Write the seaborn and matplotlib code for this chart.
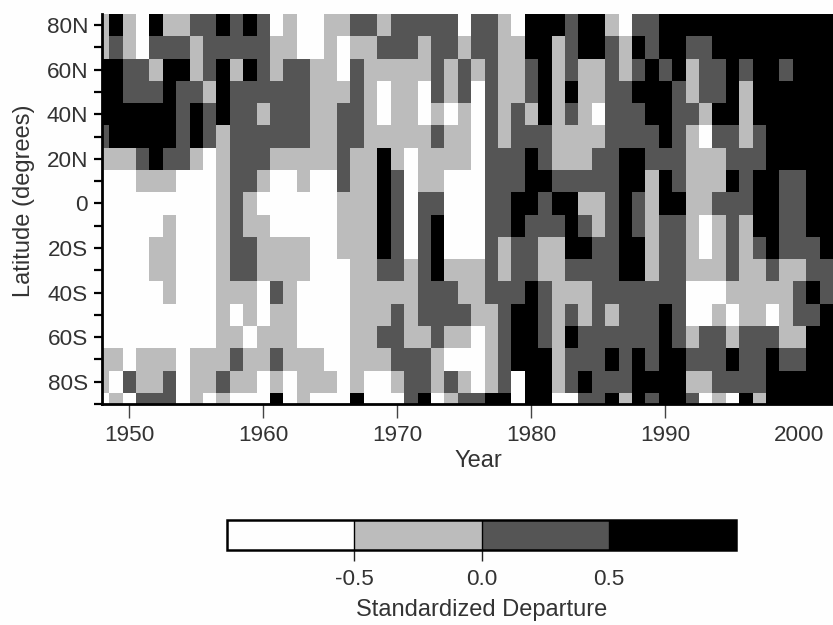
import numpy as np
import pandas as pd
import matplotlib
matplotlib.use("Agg")
import matplotlib.pyplot as plt
from matplotlib.colors import ListedColormap
import seaborn as sns

# Latitude bands, north to south (the 90S band is cut in half by the axis)
lat_bands = ["80N", "70N", "60N", "50N", "40N", "30N", "20N", "10N", "0",
             "10S", "20S", "30S", "40S", "50S", "60S", "70S", "80S", "90S"]
years = list(range(1948, 2003))

# Class midpoints: class 0 is below -0.5, 1 is -0.5..0, 2 is 0..0.5, 3 above 0.5
class_mid = [-0.75, -0.25, 0.25, 0.75]
greys = ["#fefefe", "#bcbcbc", "#555555", "#000000"]

# Shaded class per band for each year
y1948 = [1, 1, 3, 3, 3, 2, 1, 0, 0, 0, 0, 0, 0, 0, 0, 1, 1, 0]
y1949 = [3, 2, 3, 3, 3, 3, 1, 0, 0, 0, 0, 0, 0, 0, 0, 1, 0, 1]
y1950 = [1, 1, 2, 2, 3, 3, 1, 0, 0, 0, 0, 0, 0, 0, 0, 0, 2, 0]
y1951 = [0, 0, 2, 2, 3, 3, 2, 1, 0, 0, 0, 0, 0, 0, 0, 1, 1, 2]
y1952 = [3, 2, 1, 2, 3, 3, 3, 1, 0, 0, 1, 1, 0, 0, 0, 1, 1, 2]
y1953 = [1, 2, 3, 3, 3, 3, 2, 1, 0, 1, 1, 1, 1, 0, 0, 1, 2, 2]
y1954 = [1, 2, 3, 2, 2, 2, 2, 0, 0, 0, 0, 0, 0, 0, 0, 0, 0, 0]
y1955 = [2, 1, 1, 2, 3, 3, 1, 0, 0, 0, 0, 0, 0, 0, 0, 1, 1, 1]
y1956 = [2, 2, 2, 1, 2, 2, 0, 0, 0, 0, 0, 0, 0, 0, 0, 1, 1, 0]
y1957 = [3, 2, 3, 3, 3, 1, 1, 1, 1, 1, 1, 1, 1, 1, 1, 1, 2, 1]
y1958 = [2, 2, 1, 2, 2, 2, 2, 2, 2, 2, 2, 2, 1, 0, 1, 2, 1, 0]
y1959 = [3, 2, 3, 2, 2, 2, 2, 2, 1, 1, 2, 2, 1, 1, 0, 1, 1, 0]
y1960 = [2, 2, 2, 2, 1, 2, 2, 1, 0, 1, 1, 1, 0, 0, 1, 1, 0, 0]
y1961 = [0, 1, 1, 2, 2, 2, 1, 0, 0, 0, 1, 1, 2, 1, 1, 2, 1, 3]
y1962 = [1, 1, 2, 2, 2, 2, 1, 0, 0, 0, 1, 1, 1, 1, 1, 1, 0, 0]
y1963 = [0, 0, 2, 2, 2, 2, 1, 1, 0, 0, 1, 1, 0, 0, 0, 1, 1, 1]
y1964 = [0, 0, 1, 1, 1, 1, 1, 0, 0, 0, 0, 0, 0, 0, 0, 1, 1, 0]
y1965 = [1, 1, 1, 1, 1, 1, 1, 0, 0, 0, 0, 0, 0, 0, 0, 0, 1, 0]
y1966 = [1, 0, 0, 1, 2, 2, 2, 2, 1, 1, 1, 0, 0, 0, 0, 0, 0, 0]
y1967 = [2, 1, 2, 2, 2, 2, 1, 1, 1, 1, 1, 1, 1, 1, 1, 1, 1, 3]
y1968 = [2, 1, 1, 1, 1, 1, 1, 1, 1, 1, 1, 1, 1, 1, 1, 1, 0, 0]
y1969 = [1, 2, 1, 0, 0, 1, 3, 3, 3, 3, 3, 2, 1, 1, 2, 1, 0, 0]
y1970 = [2, 2, 1, 1, 1, 1, 1, 2, 2, 2, 2, 2, 1, 2, 2, 2, 1, 0]
y1971 = [2, 2, 1, 1, 1, 1, 0, 0, 0, 0, 0, 1, 1, 1, 1, 2, 2, 2]
y1972 = [2, 1, 1, 0, 0, 1, 1, 1, 2, 2, 2, 2, 2, 2, 1, 2, 2, 3]
y1973 = [2, 2, 2, 2, 1, 2, 1, 1, 2, 3, 3, 3, 2, 2, 2, 1, 1, 0]
y1974 = [2, 2, 1, 1, 0, 1, 1, 0, 0, 0, 0, 1, 2, 2, 1, 0, 2, 1]
y1975 = [0, 1, 2, 2, 1, 1, 1, 0, 0, 0, 0, 1, 1, 2, 1, 0, 1, 2]
y1976 = [2, 2, 1, 0, 0, 0, 0, 0, 0, 0, 0, 1, 1, 1, 0, 0, 0, 2]
y1977 = [2, 2, 2, 2, 2, 2, 2, 2, 2, 2, 2, 2, 2, 1, 1, 1, 1, 3]
y1978 = [1, 1, 1, 1, 1, 1, 2, 2, 2, 2, 1, 1, 2, 2, 2, 2, 2, 3]
y1979 = [0, 1, 1, 1, 2, 2, 2, 2, 3, 3, 2, 2, 2, 3, 3, 3, 0, 0]
y1980 = [3, 3, 2, 2, 1, 2, 3, 3, 3, 2, 2, 2, 3, 3, 3, 3, 3, 3]
y1981 = [3, 3, 3, 3, 3, 2, 2, 3, 2, 2, 1, 1, 2, 2, 2, 3, 3, 3]
y1982 = [3, 1, 1, 1, 1, 1, 1, 2, 3, 2, 1, 1, 1, 1, 1, 1, 1, 0]
y1983 = [2, 2, 2, 3, 2, 1, 1, 2, 3, 3, 3, 2, 1, 2, 3, 2, 2, 0]
y1984 = [3, 3, 1, 1, 1, 1, 1, 2, 1, 2, 3, 2, 1, 1, 2, 2, 3, 2]
y1985 = [3, 3, 1, 1, 0, 1, 2, 2, 1, 1, 2, 2, 2, 2, 2, 2, 2, 2]
y1986 = [1, 2, 2, 2, 2, 2, 2, 2, 2, 2, 2, 2, 2, 1, 2, 3, 2, 3]
y1987 = [0, 1, 1, 2, 2, 2, 3, 3, 3, 3, 3, 3, 2, 2, 2, 2, 2, 1]
y1988 = [2, 3, 2, 3, 2, 2, 3, 3, 2, 2, 3, 3, 2, 2, 2, 3, 3, 3]
y1989 = [2, 2, 3, 3, 3, 2, 2, 1, 1, 1, 1, 1, 2, 2, 2, 2, 3, 2]
y1990 = [3, 3, 2, 3, 3, 3, 2, 3, 3, 2, 2, 2, 2, 3, 3, 3, 3, 3]
y1991 = [3, 3, 3, 2, 2, 2, 2, 2, 3, 2, 2, 2, 2, 2, 2, 3, 3, 3]
y1992 = [3, 2, 1, 1, 2, 1, 1, 1, 1, 1, 1, 1, 0, 0, 1, 2, 1, 2]
y1993 = [3, 2, 2, 2, 1, 0, 1, 1, 1, 0, 0, 1, 0, 0, 2, 2, 1, 0]
y1994 = [3, 3, 2, 2, 3, 2, 1, 1, 2, 1, 1, 1, 0, 1, 2, 2, 2, 1]
y1995 = [3, 3, 3, 3, 3, 2, 2, 3, 2, 2, 2, 2, 1, 0, 1, 3, 2, 0]
y1996 = [3, 3, 2, 1, 1, 1, 2, 2, 2, 1, 1, 1, 1, 1, 2, 2, 2, 3]
y1997 = [3, 3, 3, 3, 3, 2, 2, 3, 3, 3, 2, 1, 1, 1, 2, 2, 2, 1]
y1998 = [3, 3, 3, 3, 3, 3, 3, 3, 3, 3, 3, 2, 1, 0, 2, 3, 3, 3]
y1999 = [3, 3, 2, 3, 3, 3, 3, 2, 2, 2, 2, 1, 1, 1, 1, 2, 3, 3]
y2000 = [3, 3, 3, 3, 3, 3, 3, 2, 2, 2, 2, 1, 2, 2, 1, 2, 3, 3]
y2001 = [3, 3, 3, 3, 3, 3, 3, 3, 3, 3, 2, 2, 3, 2, 3, 3, 3, 3]
y2002 = [3, 3, 3, 3, 3, 3, 3, 3, 3, 3, 3, 2, 2, 3, 3, 3, 3, 3]

by_year = [y1948, y1949, y1950, y1951, y1952, y1953, y1954, y1955, y1956, y1957,
           y1958, y1959, y1960, y1961, y1962, y1963, y1964, y1965, y1966, y1967,
           y1968, y1969, y1970, y1971, y1972, y1973, y1974, y1975, y1976, y1977,
           y1978, y1979, y1980, y1981, y1982, y1983, y1984, y1985, y1986, y1987,
           y1988, y1989, y1990, y1991, y1992, y1993, y1994, y1995, y1996, y1997,
           y1998, y1999, y2000, y2001, y2002]

year_labels = ["1950", "1960", "1970", "1980", "1990", "2000"]
lat_labels = ["80N", "60N", "40N", "20N", "0", "20S", "40S", "60S", "80S"]
cbar_ticks = [-0.5, 0.0, 0.5]
cbar_labels = ["-0.5", "0.0", "0.5"]

W, H = 833, 625
ink = "#333333"
fs = 16.2
label_fs = 17

sns.set_style("white")
plt.rcParams["font.family"] = ["Liberation Sans", "DejaVu Sans"]

# Table with one row per band, one column per year
table = pd.DataFrame(by_year, index=years, columns=lat_bands).T
table = table.map(lambda c: class_mid[c])

fig = plt.figure(figsize=(W / 100, H / 100), dpi=100, facecolor="#fefefe")
ax = fig.add_axes([102 / W, 1 - 404 / H, (W - 102) / W, 390 / H])
cax = fig.add_axes([227 / W, 1 - 550 / H, 509 / W, 30 / H])

sns.heatmap(table, ax=ax, cbar_ax=cax, cmap=ListedColormap(greys), vmin=-1, vmax=1,
            xticklabels=False, yticklabels=False,
            cbar_kws={"orientation": "horizontal", "ticks": cbar_ticks, "drawedges": True})

# Keep the first column and last row cut off like the original
ax.set_xlim(0.46, 55)
ax.set_ylim(17.5, 0)

tick_x = [years.index(int(y)) + 0.5 for y in year_labels]
ax.set_xticks(tick_x)
ax.set_xticklabels(year_labels, fontsize=fs, color=ink)
ax.tick_params(axis="x", length=10, width=1, color="#444444", pad=5, bottom=True)
ax.xaxis.get_major_ticks()[-1].tick1line.set_visible(False)

major_y = [i + 0.5 for i in range(0, 17, 2)]
minor_y = [i + 0.5 for i in range(1, 16, 2)] + [17.5]
ax.set_yticks(major_y)
ax.set_yticklabels(lat_labels, fontsize=fs, color=ink)
ax.set_yticks(minor_y, minor=True)
ax.tick_params(axis="y", which="both", length=6, width=1.6, color="black", pad=4, left=True)

for side in ["left", "bottom"]:
    ax.spines[side].set_visible(True)
    ax.spines[side].set_color("black")
    ax.spines[side].set_linewidth(2)
ax.spines["top"].set_visible(False)
ax.spines["right"].set_visible(False)

ax.set_xlabel("Year", fontsize=label_fs, color=ink, x=0.515, labelpad=3)
ax.set_ylabel("Latitude (degrees)", fontsize=label_fs, color=ink, y=0.52, labelpad=8)

# Colour key
cbar = ax.collections[0].colorbar
cbar.set_ticks(cbar_ticks, labels=cbar_labels)
cbar.ax.tick_params(length=8, width=1, color="#222222", labelsize=fs, labelcolor=ink, pad=6)
cbar.ax.xaxis.get_major_ticks()[-1].tick1line.set_visible(False)
cbar.outline.set_edgecolor("black")
cbar.outline.set_linewidth(1.8)
cbar.dividers.set_color("black")
cbar.dividers.set_linewidth(1)
cbar.set_label("Standardized Departure", fontsize=label_fs, color=ink, labelpad=6)

fig.savefig("out.png", dpi=100, facecolor=fig.get_facecolor())
